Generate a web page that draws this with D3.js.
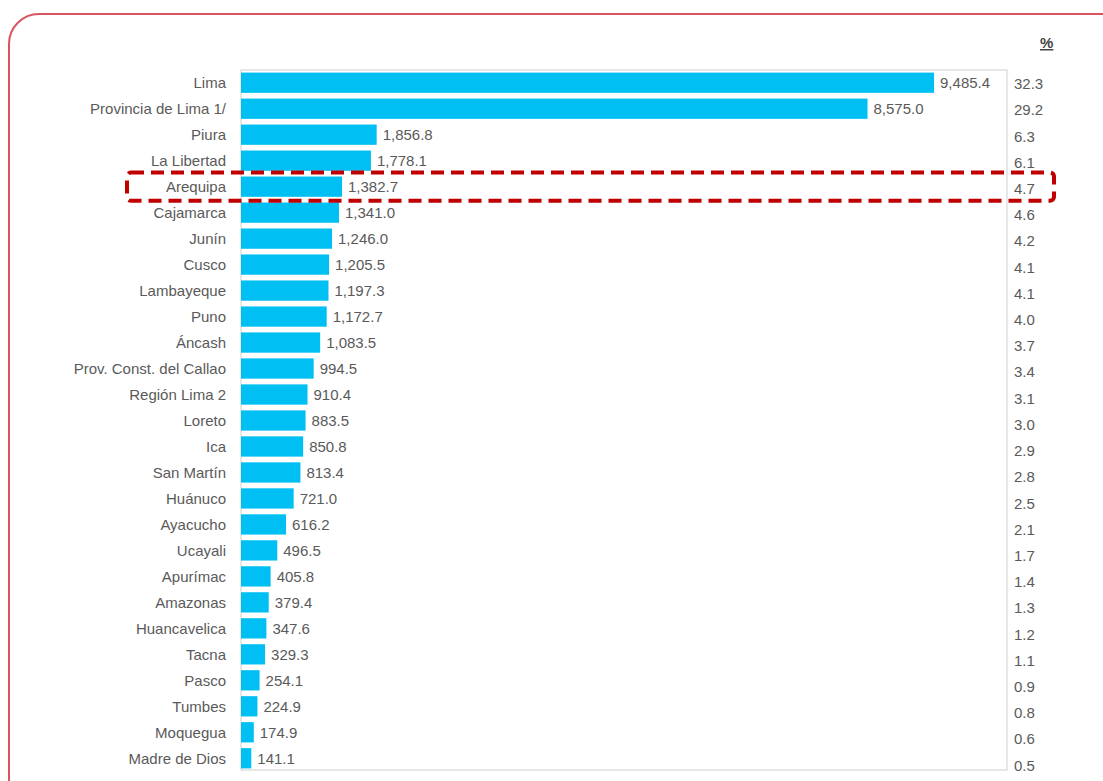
<!DOCTYPE html>
<html><head><meta charset="utf-8">
<script src="https://cdn.jsdelivr.net/npm/d3@7"></script>
<style>body{margin:0;background:#fff}svg{display:block}</style>
</head><body>
<svg id="c" width="1103" height="781"></svg>
<script>
const regions = ["Lima","Provincia de Lima 1/","Piura","La Libertad","Arequipa","Cajamarca","Junín","Cusco","Lambayeque","Puno","Áncash","Prov. Const. del Callao","Región Lima 2","Loreto","Ica","San Martín","Huánuco","Ayacucho","Ucayali","Apurímac","Amazonas","Huancavelica","Tacna","Pasco","Tumbes","Moquegua","Madre de Dios"];
const values = [9485.4,8575.0,1856.8,1778.1,1382.7,1341.0,1246.0,1205.5,1197.3,1172.7,1083.5,994.5,910.4,883.5,850.8,813.4,721.0,616.2,496.5,405.8,379.4,347.6,329.3,254.1,224.9,174.9,141.1];
const percents = ["32.3","29.2","6.3","6.1","4.7","4.6","4.2","4.1","4.1","4.0","3.7","3.4","3.1","3.0","2.9","2.8","2.5","2.1","1.7","1.4","1.3","1.2","1.1","0.9","0.8","0.6","0.5"];
const highlighted = "Arequipa";

const svg = d3.select("#c");
const font = "'Liberation Sans',Arial,sans-serif";
const gray = "#5a5a5a";

// outer rounded frame
svg.append("rect").attr("x",9).attr("y",14).attr("width",1130).attr("height",800)
  .attr("rx",30).attr("fill","none").attr("stroke","#d9545f").attr("stroke-width",2);

const x = d3.scaleLinear().domain([0,10484]).range([241,1007]);
const y = d3.scaleBand().domain(regions).range([70,771]).paddingInner(0.22).paddingOuter(0.1);
const yp = d3.scaleBand().domain(regions).range([71,778]).paddingInner(0.22).paddingOuter(0.1);

// plot frame
svg.append("rect").attr("x",x(0)).attr("y",70).attr("width",x.range()[1]-x(0)).attr("height",700)
  .attr("fill","none").attr("stroke","#d8d8d8").attr("stroke-width",1.2);

const data = regions.map((r,i)=>({r, v:values[i], p:percents[i]}));

svg.selectAll("rect.bar").data(data).join("rect").attr("class","bar")
  .attr("x",x(0)).attr("y",d=>y(d.r)).attr("width",d=>x(d.v)-x(0)).attr("height",y.bandwidth())
  .attr("fill","#00bff2");

// category labels
svg.append("g").selectAll("text").data(data).join("text")
  .attr("x",226).attr("y",d=>y(d.r)+y.bandwidth()/2).attr("dy","0.36em")
  .attr("text-anchor","end").attr("font-family",font).attr("font-size",15).attr("fill",gray)
  .text(d=>d.r);

// value labels
const fmt = d3.format(",.1f");
svg.append("g").selectAll("text").data(data).join("text")
  .attr("x",d=>x(d.v)+6).attr("y",d=>y(d.r)+y.bandwidth()/2).attr("dy","0.36em")
  .attr("font-family",font).attr("font-size",15).attr("fill",gray)
  .text(d=>fmt(d.v));

// percent column
svg.append("g").selectAll("text").data(data).join("text")
  .attr("x",1014).attr("y",d=>yp(d.r)+yp.bandwidth()/2).attr("dy","0.36em")
  .attr("font-family",font).attr("font-size",15).attr("fill",gray)
  .text(d=>d.p);

svg.append("text").attr("x",1040).attr("y",48).attr("font-family",font).attr("font-size",15)
  .attr("font-weight","bold").attr("fill","#444").attr("text-decoration","underline").text("%");

// highlight dashed box
const hy = y(highlighted);
svg.append("rect").attr("x",127).attr("y",hy-4).attr("width",927).attr("height",y.bandwidth()+8)
  .attr("rx",4).attr("fill","none").attr("stroke","#c00000").attr("stroke-width",4)
  .attr("stroke-dasharray","13,7");
</script>
</body></html>
